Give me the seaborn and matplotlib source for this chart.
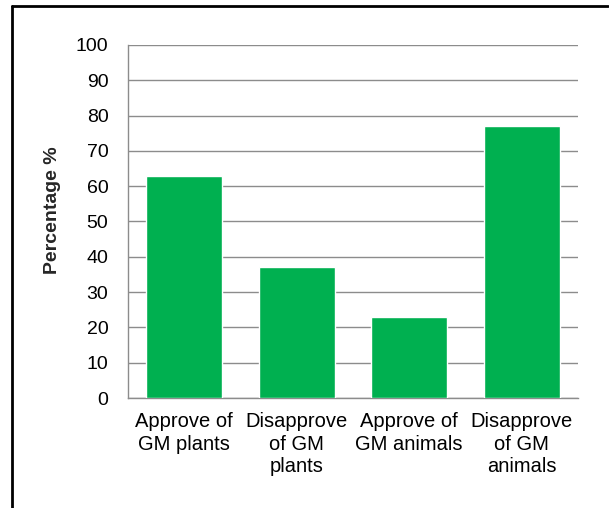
import matplotlib
matplotlib.use("Agg")
import matplotlib.pyplot as plt
import matplotlib.lines as mlines
import numpy as np
import pandas as pd
import seaborn as sns

# chart data
categories = [
    "Approve of\nGM plants",
    "Disapprove\nof GM\nplants",
    "Approve of\nGM animals",
    "Disapprove\nof GM\nanimals",
]
percentages = [63, 37, 23, 77]
y_ticks = list(range(0, 101, 10))

sns.set_style("white")
plt.rcParams["font.family"] = ["Liberation Sans", "DejaVu Sans"]

df = pd.DataFrame({"Category": categories, "Percentage": percentages})

fig = plt.figure(figsize=(6.09, 5.08), dpi=100)
ax = fig.add_axes([0.210, 0.2165, 0.739, 0.695])

sns.barplot(
    data=df,
    x="Category",
    y="Percentage",
    color="#00B050",
    saturation=1,
    width=0.675,
    errorbar=None,
    ax=ax,
    zorder=3,
)

grid_col = "#8c8c8c"
ax.set_ylim(0, 100)
ax.set_xlim(-0.5, len(categories) - 0.5)
ax.set_yticks(y_ticks)
ax.yaxis.grid(True, color=grid_col, linewidth=1.0, zorder=0)
ax.set_axisbelow(True)

for side in ["top", "right"]:
    ax.spines[side].set_visible(False)
for side in ["left", "bottom"]:
    ax.spines[side].set_color(grid_col)
    ax.spines[side].set_linewidth(1.0)

ax.tick_params(axis="y", length=5, width=1.0, color=grid_col, pad=9,
               labelsize=14, labelcolor="black")
ax.tick_params(axis="x", which="major", length=0, pad=10,
               labelsize=14.5, labelcolor="black")
for lbl in ax.get_xticklabels():
    lbl.set_linespacing(1.25)
ax.set_xticks(np.arange(-0.5, len(categories), 1.0), minor=True)
ax.tick_params(axis="x", which="minor", length=4, width=1.0, color=grid_col)

ax.set_xlabel("")
ax.set_ylabel("Percentage %", fontsize=14, fontweight="bold")
ax.yaxis.set_label_coords(-0.148, 0.533)

# partial frame around the picture (top and left edges)
fig.add_artist(mlines.Line2D([12 / 609, 608 / 609], [1 - 6 / 508, 1 - 6 / 508],
                             color="black", linewidth=2, transform=fig.transFigure))
fig.add_artist(mlines.Line2D([12 / 609, 12 / 609], [0, 1 - 6 / 508],
                             color="black", linewidth=2, transform=fig.transFigure))

fig.savefig("out.png", dpi=100)
